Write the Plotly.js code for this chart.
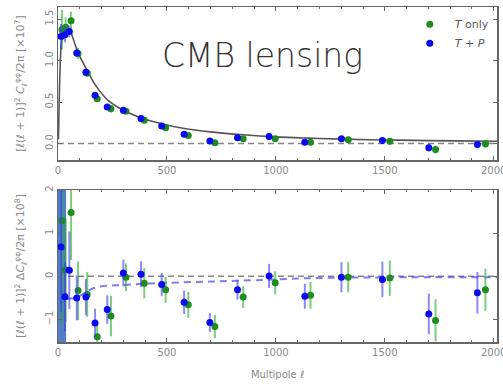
<!DOCTYPE html>
<html>
<head>
<meta charset="utf-8">
<script src="https://cdn.plot.ly/plotly-3.0.1.min.js"></script>
<style>html,body{margin:0;padding:0;background:#fff;}#chart{width:503px;height:388px;}</style>
</head>
<body>
<div id="chart"></div>
<script>
// Multipoles of band-powers
const ellTP = [14, 32, 52, 86, 128, 170, 226, 300, 381, 476, 579, 697, 824, 969, 1133, 1301, 1489, 1702, 1925];
const ellT  = [18, 35, 60, 92, 134, 180, 243, 312, 396, 494, 598, 720, 850, 997, 1159, 1332, 1523, 1733, 1962];

// Top panel: [l(l+1)]^2 C_l^phiphi / 2pi  [x1e7]
const clTP = [1.29, 1.31, 1.35, 1.09, 0.86, 0.58, 0.44, 0.40, 0.30, 0.21, 0.11, 0.03, 0.07, 0.085, 0.016, 0.057, 0.036, -0.05, -0.012];
const clT  = [1.37, 1.40, 1.48, 1.085, 0.85, 0.54, 0.42, 0.39, 0.28, 0.19, 0.097, 0.01, 0.057, 0.057, 0.016, 0.045, 0.028, -0.073, -0.004];
const errTopTP = [0.15, 0.09, 0.07, 0.05, 0.042, 0.033, 0.033, 0.031, 0.03, 0.027, 0.027, 0.022, 0.023, 0.028, 0.029, 0.035, 0.041, 0.047, 0.048];
const errTopT  = [0.24, 0.12, 0.11, 0.068, 0.052, 0.035, 0.047, 0.032, 0.035, 0.03, 0.03, 0.027, 0.025, 0.027, 0.031, 0.035, 0.041, 0.049, 0.049];

// Bottom panel: residuals [x1e8]
const dTP = [0.68, -0.47, 0.14, -0.5, -0.48, -1.08, -0.77, 0.08, 0.05, -0.19, -0.6, -1.07, -0.31, 0.01, -0.46, -0.02, -0.07, -0.87, -0.38];
const dT  = [1.29, 0.15, 1.48, -0.33, -0.42, -1.4, -0.92, -0.02, -0.16, -0.31, -0.66, -1.16, -0.48, -0.15, -0.44, -0.02, -0.04, -1.02, -0.31];
const errBotTP = [1.5, 0.8, 0.9, 0.52, 0.42, 0.33, 0.33, 0.31, 0.3, 0.27, 0.27, 0.22, 0.23, 0.28, 0.29, 0.35, 0.41, 0.47, 0.48];
const errBotT  = [2.4, 1.2, 1.1, 0.68, 0.52, 0.35, 0.47, 0.32, 0.35, 0.3, 0.3, 0.27, 0.25, 0.27, 0.31, 0.35, 0.41, 0.49, 0.49];

// Theory curve
const ellTh = [2, 5, 10, 15, 20, 30, 40, 50, 60, 80, 100, 130, 170, 230, 300, 380, 480, 580, 700, 850, 1000, 1150, 1300, 1500, 1700, 2000, 2100];
const clTh  = [0.05, 0.45, 0.95, 1.2, 1.29, 1.35, 1.37, 1.36, 1.33, 1.18, 1.05, 0.9, 0.71, 0.52, 0.4, 0.31, 0.235, 0.18, 0.14, 0.105, 0.08, 0.065, 0.053, 0.043, 0.035, 0.027, 0.025];

// Blue dashed model difference (bottom)
const ellDiff = [40, 80, 100, 130, 160, 200, 300, 400, 500, 700, 900, 1100, 1300, 2100];
const diffVal = [-0.52, -0.5, -0.45, -0.36, -0.28, -0.23, -0.2, -0.17, -0.15, -0.12, -0.09, -0.05, -0.03, -0.02];

const zeroX = [0, 2100];
const zeroY = [0, 0];
const bandX = [0, 37];

const BLUE = '#0a0aee', GREEN = '#1e8c1e';
const BLUE_ERR = 'rgba(60,60,240,0.6)', GREEN_ERR = 'rgba(40,170,40,0.6)';

const traces = [
  {x: zeroX, y: zeroY, xaxis: 'x', yaxis: 'y', mode: 'lines', line: {color: '#888', width: 1.5, dash: '6px,4px'}, showlegend: false, hoverinfo: 'skip'},
  {x: ellTh, y: clTh, xaxis: 'x', yaxis: 'y', mode: 'lines', line: {color: '#555', width: 1.6, shape: 'spline'}, showlegend: false, hoverinfo: 'skip'},
  {x: ellT, y: clT, xaxis: 'x', yaxis: 'y', mode: 'markers', name: '<i>T</i> only',
   marker: {color: GREEN, size: 7}, error_y: {type: 'data', array: errTopT, color: GREEN_ERR, thickness: 2, width: 0}},
  {x: ellTP, y: clTP, xaxis: 'x', yaxis: 'y', mode: 'markers', name: '<i>T</i> + <i>P</i>',
   marker: {color: BLUE, size: 7}, error_y: {type: 'data', array: errTopTP, color: BLUE_ERR, thickness: 2, width: 0}},

  {x: zeroX, y: zeroY, xaxis: 'x2', yaxis: 'y2', mode: 'lines', line: {color: '#888', width: 1.5, dash: '6px,4px'}, showlegend: false, hoverinfo: 'skip'},
  {x: ellDiff, y: diffVal, xaxis: 'x2', yaxis: 'y2', mode: 'lines', line: {color: 'rgba(70,70,240,0.7)', width: 2, dash: '7px,5px', shape: 'spline'}, showlegend: false, hoverinfo: 'skip'},
  {x: ellT, y: dT, xaxis: 'x2', yaxis: 'y2', mode: 'markers', showlegend: false,
   marker: {color: GREEN, size: 7}, error_y: {type: 'data', array: errBotT, color: GREEN_ERR, thickness: 2, width: 0}},
  {x: ellTP, y: dTP, xaxis: 'x2', yaxis: 'y2', mode: 'markers', showlegend: false,
   marker: {color: BLUE, size: 7}, error_y: {type: 'data', array: errBotTP, color: BLUE_ERR, thickness: 2, width: 0}}
];

const tickFont = {family: 'DejaVu Sans, sans-serif', size: 10, color: '#8a8a8a'};
const titleFont = {family: 'DejaVu Sans, sans-serif', size: 11, color: '#8a8a8a'};
const axBase = {
  showgrid: false, zeroline: false, showline: true, linecolor: '#666', linewidth: 1.5, mirror: 'allticks',
  ticks: 'inside', ticklen: 4, tickcolor: '#666', tickwidth: 1, tickfont: tickFont, ticklabeloverflow: 'allow'
};

const layout = {
  width: 503, height: 388,
  margin: {l: 58, r: 6, t: 7, b: 46},
  paper_bgcolor: '#fff', plot_bgcolor: '#fff',
  showlegend: true,
  legend: {x: 0.79, y: 0.992, xanchor: 'left', yanchor: 'top', bgcolor: 'rgba(0,0,0,0)',
           font: {family: 'DejaVu Sans, sans-serif', size: 11, color: '#555'}, itemwidth: 40, tracegroupgap: 0},
  xaxis: Object.assign({}, axBase, {anchor: 'y', range: [0, 2015], tickvals: [0, 500, 1000, 1500, 2000],
          minor: {dtick: 100, ticks: 'inside', ticklen: 2, tickcolor: '#666'}}),
  yaxis: Object.assign({}, axBase, {domain: [0.543, 1], range: [-0.2, 1.645], tickvals: [0, 0.5, 1.0, 1.5],
          ticktext: ['0.0', '0.5', '1.0', '1.5'], tickangle: -90,
          title: {text: '[ℓ(ℓ + 1)]<sup>2</sup> <i>C</i><sub>ℓ</sub><sup>φφ</sup>/2π [×10<sup>7</sup>]', font: titleFont, standoff: 16}}),
  xaxis2: Object.assign({}, axBase, {anchor: 'y2', range: [0, 2015], tickvals: [0, 500, 1000, 1500, 2000],
          minor: {dtick: 100, ticks: 'inside', ticklen: 2, tickcolor: '#666'},
          title: {text: 'Multipole <i>ℓ</i>', font: {family: 'DejaVu Sans, sans-serif', size: 10, color: '#8a8a8a'}, standoff: 14}}),
  yaxis2: Object.assign({}, axBase, {domain: [0, 0.4537], range: [-1.52, 2], tickvals: [-1, 0, 1, 2],
          ticktext: ['−1', '0', '1', '2'], tickangle: -90,
          title: {text: '[ℓ(ℓ + 1)]<sup>2</sup> Δ<i>C</i><sub>ℓ</sub><sup>φφ</sup>/2π [×10<sup>8</sup>]', font: titleFont, standoff: 16}}),
  shapes: [
    {type: 'rect', xref: 'x2', yref: 'y2 domain', x0: bandX[0], x1: bandX[1], y0: 0, y1: 1,
     fillcolor: 'rgba(50,105,185,0.85)', line: {width: 0}, layer: 'below'}
  ],
  annotations: [
    {text: 'CMB lensing', xref: 'paper', yref: 'paper', x: 0.465, y: 0.918, showarrow: false,
     font: {family: 'DejaVu Sans, sans-serif', size: 33, color: '#333', weight: 300}}
  ]
};

Plotly.newPlot('chart', traces, layout, {displayModeBar: false, staticPlot: true});
</script>
</body>
</html>
